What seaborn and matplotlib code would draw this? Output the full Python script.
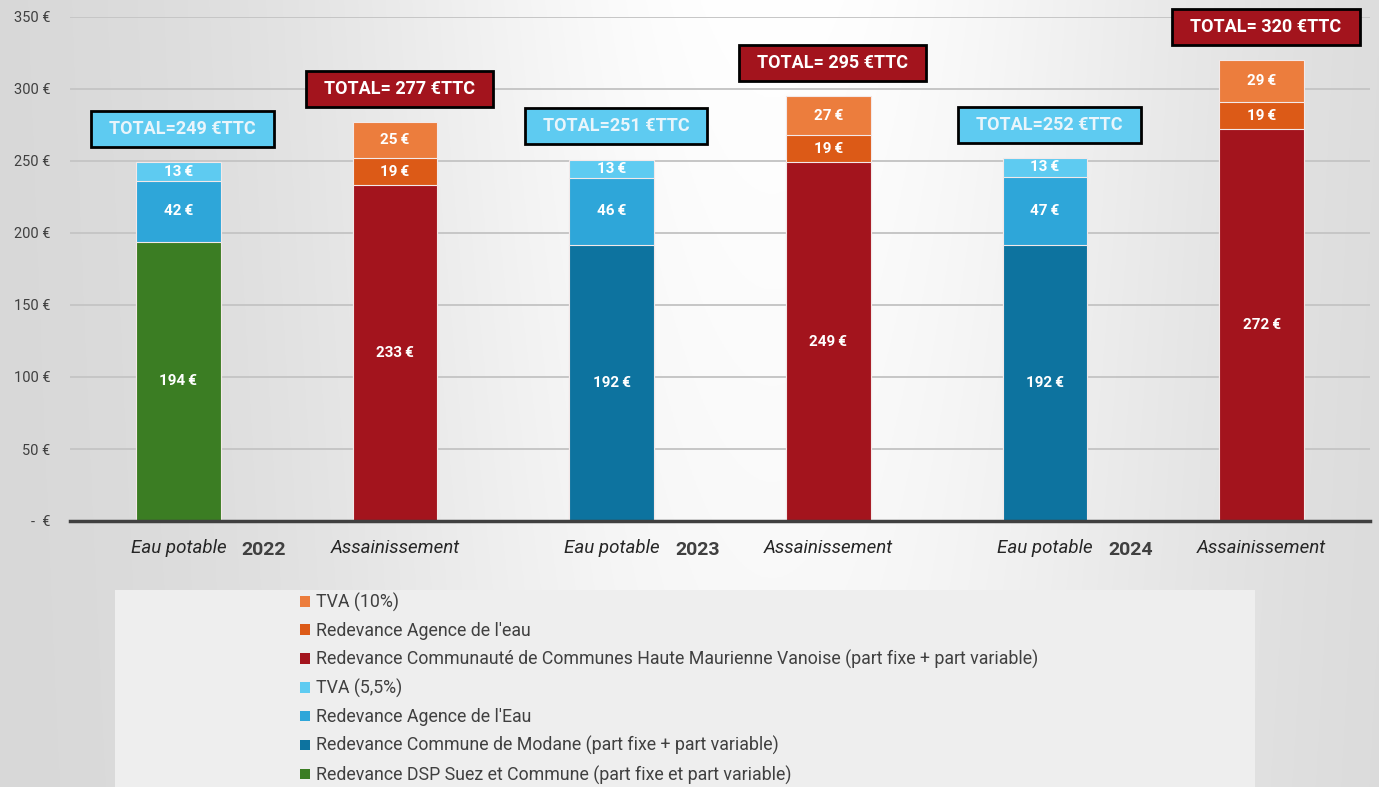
import numpy as np
import pandas as pd
import matplotlib
matplotlib.use("Agg")
import matplotlib.pyplot as plt
import seaborn as sns
from matplotlib.patches import Rectangle, Patch

# ---------------- data ----------------
categories = ["Eau potable 2022", "Assainissement 2022",
              "Eau potable 2023", "Assainissement 2023",
              "Eau potable 2024", "Assainissement 2024"]
tick_labels = ["Eau potable", "Assainissement", "Eau potable",
               "Assainissement", "Eau potable", "Assainissement"]
years = ["2022", "2023", "2024"]

# bottom segment
base_series = ["Redevance DSP Suez et Commune (part fixe et part variable)",
               "Redevance Communauté de Communes Haute Maurienne Vanoise (part fixe + part variable)",
               "Redevance Commune de Modane (part fixe + part variable)",
               "Redevance Communauté de Communes Haute Maurienne Vanoise (part fixe + part variable)",
               "Redevance Commune de Modane (part fixe + part variable)",
               "Redevance Communauté de Communes Haute Maurienne Vanoise (part fixe + part variable)"]
base_values = [194, 233, 192, 249, 192, 272]
# middle segment
mid_series = ["Redevance Agence de l'Eau", "Redevance Agence de l'eau",
              "Redevance Agence de l'Eau", "Redevance Agence de l'eau",
              "Redevance Agence de l'Eau", "Redevance Agence de l'eau"]
mid_values = [42, 19, 46, 19, 47, 19]
# top segment (TVA)
top_series = ["TVA (5,5%)", "TVA (10%)", "TVA (5,5%)", "TVA (10%)",
              "TVA (5,5%)", "TVA (10%)"]
top_values = [13, 25, 13, 27, 13, 29]
totals = [249, 277, 251, 295, 252, 320]

legend_order = ["TVA (10%)", "Redevance Agence de l'eau",
                "Redevance Communauté de Communes Haute Maurienne Vanoise (part fixe + part variable)",
                "TVA (5,5%)", "Redevance Agence de l'Eau",
                "Redevance Commune de Modane (part fixe + part variable)",
                "Redevance DSP Suez et Commune (part fixe et part variable)"]
colors = {
    "TVA (10%)": "#ec7d3d",
    "Redevance Agence de l'eau": "#dc5a17",
    "Redevance Communauté de Communes Haute Maurienne Vanoise (part fixe + part variable)": "#a3141d",
    "TVA (5,5%)": "#5ecbf1",
    "Redevance Agence de l'Eau": "#2ea6d9",
    "Redevance Commune de Modane (part fixe + part variable)": "#0d739f",
    "Redevance DSP Suez et Commune (part fixe et part variable)": "#3b7d23",
}

# ---------------- figure ----------------
sns.set_theme(style="white")
FONT = ["Roboto", "DejaVu Sans"]
plt.rcParams["font.family"] = FONT

fig = plt.figure(figsize=(13.79, 7.87), dpi=100)

# background gradient
bg = fig.add_axes([0, 0, 1, 1], zorder=-10)
xs = np.linspace(0, 1, 600)
ys = np.linspace(0, 1, 300)
X, Y = np.meshgrid(xs, ys)
val = 0.84 + 0.16 * np.exp(-((X - 0.56) / 0.33) ** 2) * (0.8 + 0.2 * (1 - Y))
bg.imshow(np.dstack([val, val, val]), aspect="auto", extent=[0, 1, 0, 1], origin="upper")
bg.add_patch(Rectangle((115 / 1379, 0), (1255 - 115) / 1379, (787 - 590) / 787,
                       transform=bg.transAxes, facecolor="#eeeeee", edgecolor="none"))
bg.set_xlim(0, 1); bg.set_ylim(0, 1)
bg.axis("off")

ax = fig.add_axes([70 / 1379, 1 - 521 / 787, (1370 - 70) / 1379, (521 - 17) / 787])
ax.patch.set_alpha(0)

rows = []
for i, c in enumerate(categories):
    rows.append((c, "base", base_series[i], base_values[i], 0, base_values[i]))
    rows.append((c, "mid", mid_series[i], mid_values[i], base_values[i], base_values[i] + mid_values[i]))
    rows.append((c, "top", top_series[i], top_values[i], base_values[i] + mid_values[i], totals[i]))
df = pd.DataFrame(rows, columns=["category", "layer", "series", "value", "bottom", "top"])

# draw from the highest cumulative layer down so lower segments overlay
for layer in ["top", "mid", "base"]:
    for s in df.loc[df.layer == layer, "series"].unique():
        sub = df[(df.layer == layer) & (df.series == s)]
        sns.barplot(data=sub, x="category", y="top", order=categories, color=colors[s],
                    saturation=1, width=0.39, edgecolor="#f3e9e9", linewidth=0.8,
                    ax=ax, zorder=3)

# segment labels
for _, r in df.iterrows():
    xi = categories.index(r["category"])
    ax.text(xi, (r["bottom"] + r["top"]) / 2, f"{r['value']}\u2009€", ha="center", va="center",
            color="white", fontsize=11, fontweight="bold", zorder=5)

# total boxes
for i, t in enumerate(totals):
    is_eau = i % 2 == 0
    txt = f"TOTAL={t} €TTC" if is_eau else f"TOTAL= {t} €TTC"
    ax.text(i + 0.02, t + 23, "  " + txt + "  ", ha="center", va="center",
            fontsize=13, fontweight="bold",
            color="#e9f5fb" if is_eau else "white", zorder=6,
            bbox=dict(boxstyle="square,pad=0.5",
                      facecolor="#5ecbf1" if is_eau else "#a3141d",
                      edgecolor="black", linewidth=2))

ax.set_ylim(0, 350)
ax.set_xlim(-0.5, 5.5)
ax.set_yticks(range(0, 351, 50))
ax.set_yticklabels(["-  €"] + [f"{v} €" for v in range(50, 351, 50)],
                   fontsize=10.5, color="#404040")
ax.set_xticks(range(len(categories)))
ax.set_xticklabels(tick_labels, fontsize=13.5, fontstyle="italic", color="#262626")
ax.tick_params(axis="y", length=0, pad=14)
ax.tick_params(axis="x", length=0, pad=13)
ax.set_xlabel(""); ax.set_ylabel("")
ax.grid(axis="y", color="#c6c6c6", linewidth=1.4, zorder=0)
ax.set_axisbelow(True)
for sp in ["top", "right", "left"]:
    ax.spines[sp].set_visible(False)
ax.spines["bottom"].set_color("#404040")
ax.spines["bottom"].set_linewidth(2.5)
ax.spines["bottom"].set_zorder(7)

for k, y in enumerate(years):
    ax.text(2 * k + 0.395, -20, y, ha="center", va="center", fontsize=14,
            fontweight="bold", color="#404040", transform=ax.transData, clip_on=False)

handles = [Patch(facecolor=colors[s], edgecolor="none", label=s) for s in legend_order]
fig.legend(handles=handles, loc="upper left", bbox_to_anchor=(284 / 1379, 1 - 577 / 787),
           frameon=False, fontsize=12.8, labelcolor="#404040", handlelength=0.55,
           handleheight=0.55, handletextpad=0.35, labelspacing=0.56)

fig.savefig("out.png", dpi=100)
